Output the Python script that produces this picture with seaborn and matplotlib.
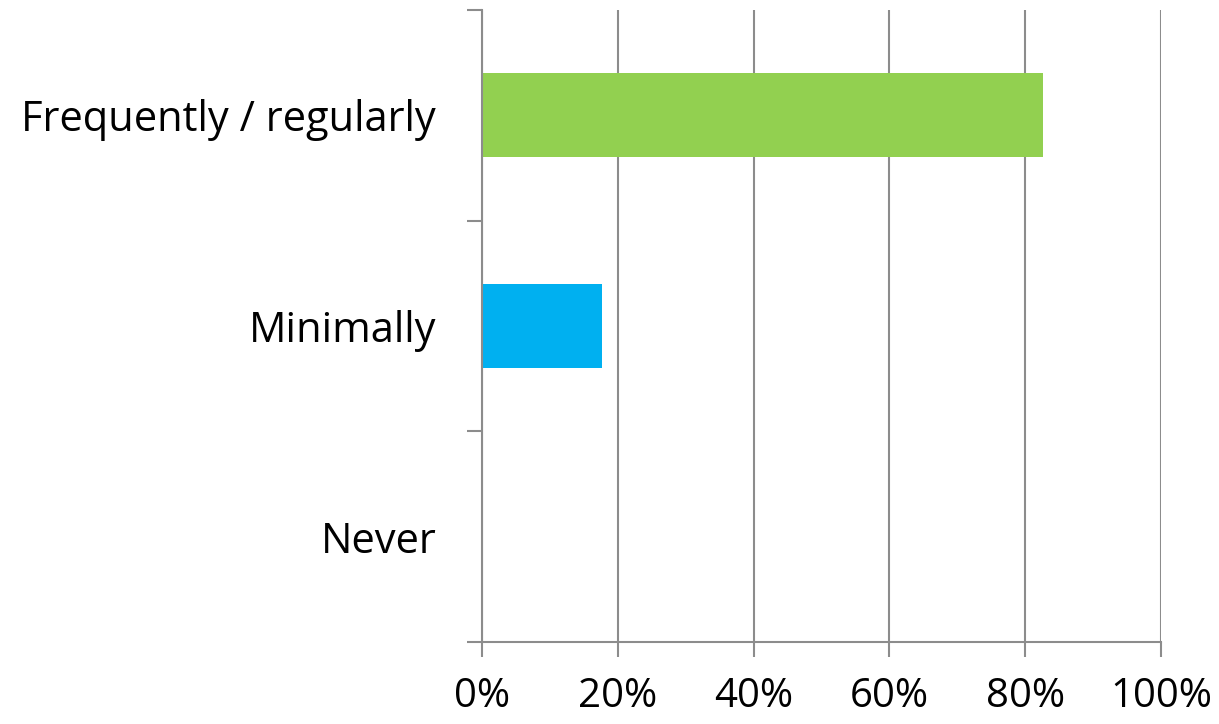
import matplotlib
matplotlib.use("Agg")
import matplotlib.pyplot as plt
import seaborn as sns
import pandas as pd
from matplotlib.ticker import PercentFormatter, FixedLocator

# -------------------------------
# Data
# -------------------------------
categories = ["Frequently / regularly", "Minimally", "Never"]
shares = [0.826, 0.177, 0.0]
bar_colors = ["#92D050", "#00B0F0", "#FFFFFF"]

df = pd.DataFrame({"Answer": categories, "Share": shares})

# -------------------------------
# Plot
# -------------------------------
sns.set_style("white")
plt.rcParams["font.family"] = ["Open Sans", "DejaVu Sans"]

grey = "#8C8C8C"
fig = plt.figure(figsize=(12.19, 7.24), dpi=100)
ax = fig.add_axes([0.3954, 0.1133, 0.9524 - 0.3954, 0.9862 - 0.1133])

sns.barplot(data=df, y="Answer", x="Share", hue="Answer", palette=bar_colors,
            orient="h", width=0.4, legend=False, ax=ax, saturation=1,
            linewidth=0)

ax.set_xlim(0, 1)
ax.set_ylim(2.5, -0.5)
ax.set_xticks([0, 0.2, 0.4, 0.6, 0.8, 1.0])
ax.xaxis.set_major_formatter(PercentFormatter(1.0, decimals=0))
ax.grid(axis="x", color=grey, linewidth=1.5)
ax.set_axisbelow(True)
ax.set_xlabel("")
ax.set_ylabel("")

for side in ["top", "right"]:
    ax.spines[side].set_visible(False)
for side in ["left", "bottom"]:
    ax.spines[side].set_color(grey)
    ax.spines[side].set_linewidth(1.5)

# category dividers as minor ticks, labels without ticks
ax.yaxis.set_minor_locator(FixedLocator([-0.5, 0.5, 1.5, 2.5]))
ax.tick_params(axis="y", which="minor", length=11, width=1.5, color=grey, left=True)
ax.tick_params(axis="y", which="major", length=0, pad=33, labelsize=30,
               labelcolor="black")
ax.tick_params(axis="x", which="major", length=11, width=1.5, color=grey,
               bottom=True, pad=14, labelsize=29, labelcolor="black")

fig.savefig("out.png", dpi=100)
